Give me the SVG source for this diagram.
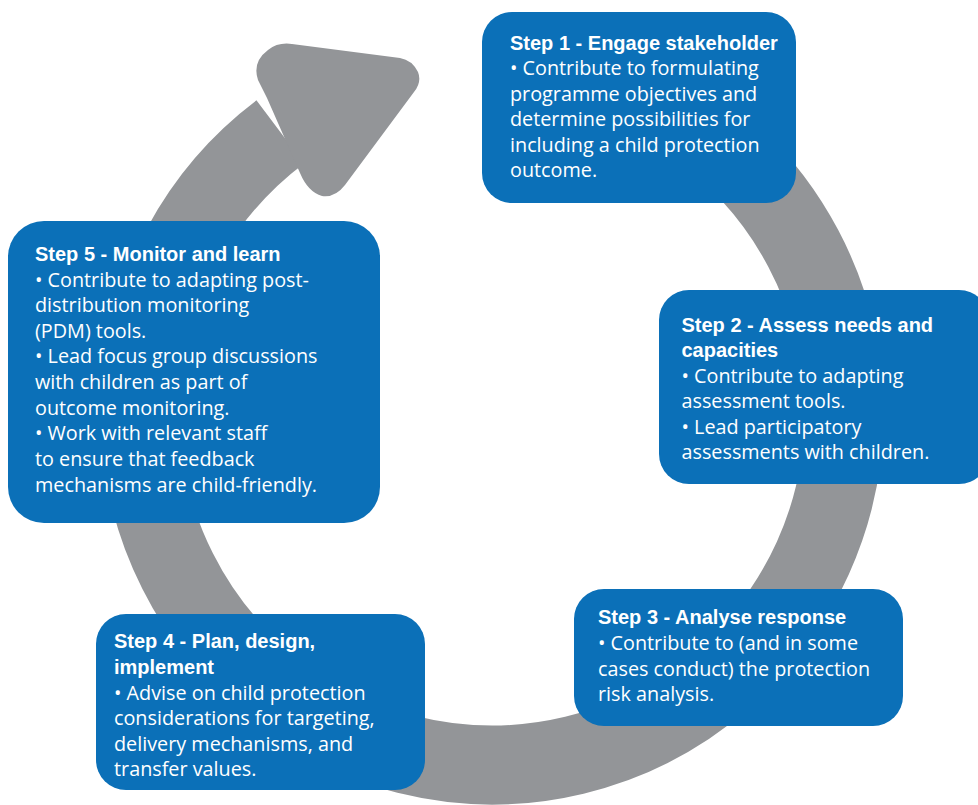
<svg xmlns="http://www.w3.org/2000/svg" width="978" height="805" viewBox="0 0 978 805">
<style>
.box{fill:#0B70B8;}
.ring{fill:none;stroke:#939598;stroke-width:79;}
.head{fill:#939598;}
text{fill:#ffffff;font-family:"Open Sans","Liberation Sans",sans-serif;font-size:19.8px;}
.t{font-family:"Liberation Sans",Arial,sans-serif;font-weight:bold;font-size:20px;}
</style>
<rect width="978" height="805" fill="#ffffff"/>
<g id="connectors">
<path class="ring" d="M 553.1 66.3 A 352 352 0 1 1 280.2 131.9"/>
<path class="head" d="M 267 98 L 258 80 Q 252 62 268 50 Q 278 42 292 44 L 400 58 Q 412 60 418 72 Q 422 82 414 92 L 345 185 Q 335 198 322 196 Q 308 192 300 173 Z"/>
</g>
<g id="step1">
<rect class="box" x="482" y="12" width="314" height="191" rx="30"/>
<text class="t" x="510" y="49.5">Step 1 - Engage stakeholder</text>
<text x="510" y="75">• Contribute to formulating</text>
<text x="510" y="100.5">programme objectives and</text>
<text x="510" y="126">determine possibilities for</text>
<text x="510" y="151.5">including a child protection</text>
<text x="510" y="177">outcome.</text>
</g>
<g id="step2">
<rect class="box" x="659" y="290" width="330" height="194" rx="30"/>
<text class="t" x="681.5" y="331.7">Step 2 - Assess needs and</text>
<text class="t" x="681.5" y="357">capacities</text>
<text x="681.5" y="382.7">• Contribute to adapting</text>
<text x="681.5" y="408">assessment tools.</text>
<text x="681.5" y="433.5">• Lead participatory</text>
<text x="681.5" y="459.3">assessments with children.</text>
</g>
<g id="step3">
<rect class="box" x="574" y="589" width="329" height="137" rx="30"/>
<text class="t" x="598" y="624">Step 3 - Analyse response</text>
<text x="598" y="650">• Contribute to (and in some</text>
<text x="598" y="675.7">cases conduct) the protection</text>
<text x="598" y="701">risk analysis.</text>
</g>
<g id="step4">
<rect class="box" x="96" y="614" width="329" height="176" rx="30"/>
<text class="t" x="114" y="648.3">Step 4 - Plan, design,</text>
<text class="t" x="114" y="674">implement</text>
<text x="114" y="699.5">• Advise on child protection</text>
<text x="114" y="725">considerations for targeting,</text>
<text x="114" y="750.7">delivery mechanisms, and</text>
<text x="114" y="776">transfer values.</text>
</g>
<g id="step5">
<rect class="box" x="8" y="221" width="372" height="302" rx="36"/>
<text class="t" x="35" y="260.7">Step 5 - Monitor and learn</text>
<text x="35" y="286.7">• Contribute to adapting post-</text>
<text x="35" y="311.7">distribution monitoring</text>
<text x="35" y="337.7">(PDM) tools.</text>
<text x="35" y="363.3">• Lead focus group discussions</text>
<text x="35" y="389">with children as part of</text>
<text x="35" y="415">outcome monitoring.</text>
<text x="35" y="440.3">• Work with relevant staff</text>
<text x="35" y="465.7">to ensure that feedback</text>
<text x="35" y="491.7">mechanisms are child-friendly.</text>
</g>
</svg>
